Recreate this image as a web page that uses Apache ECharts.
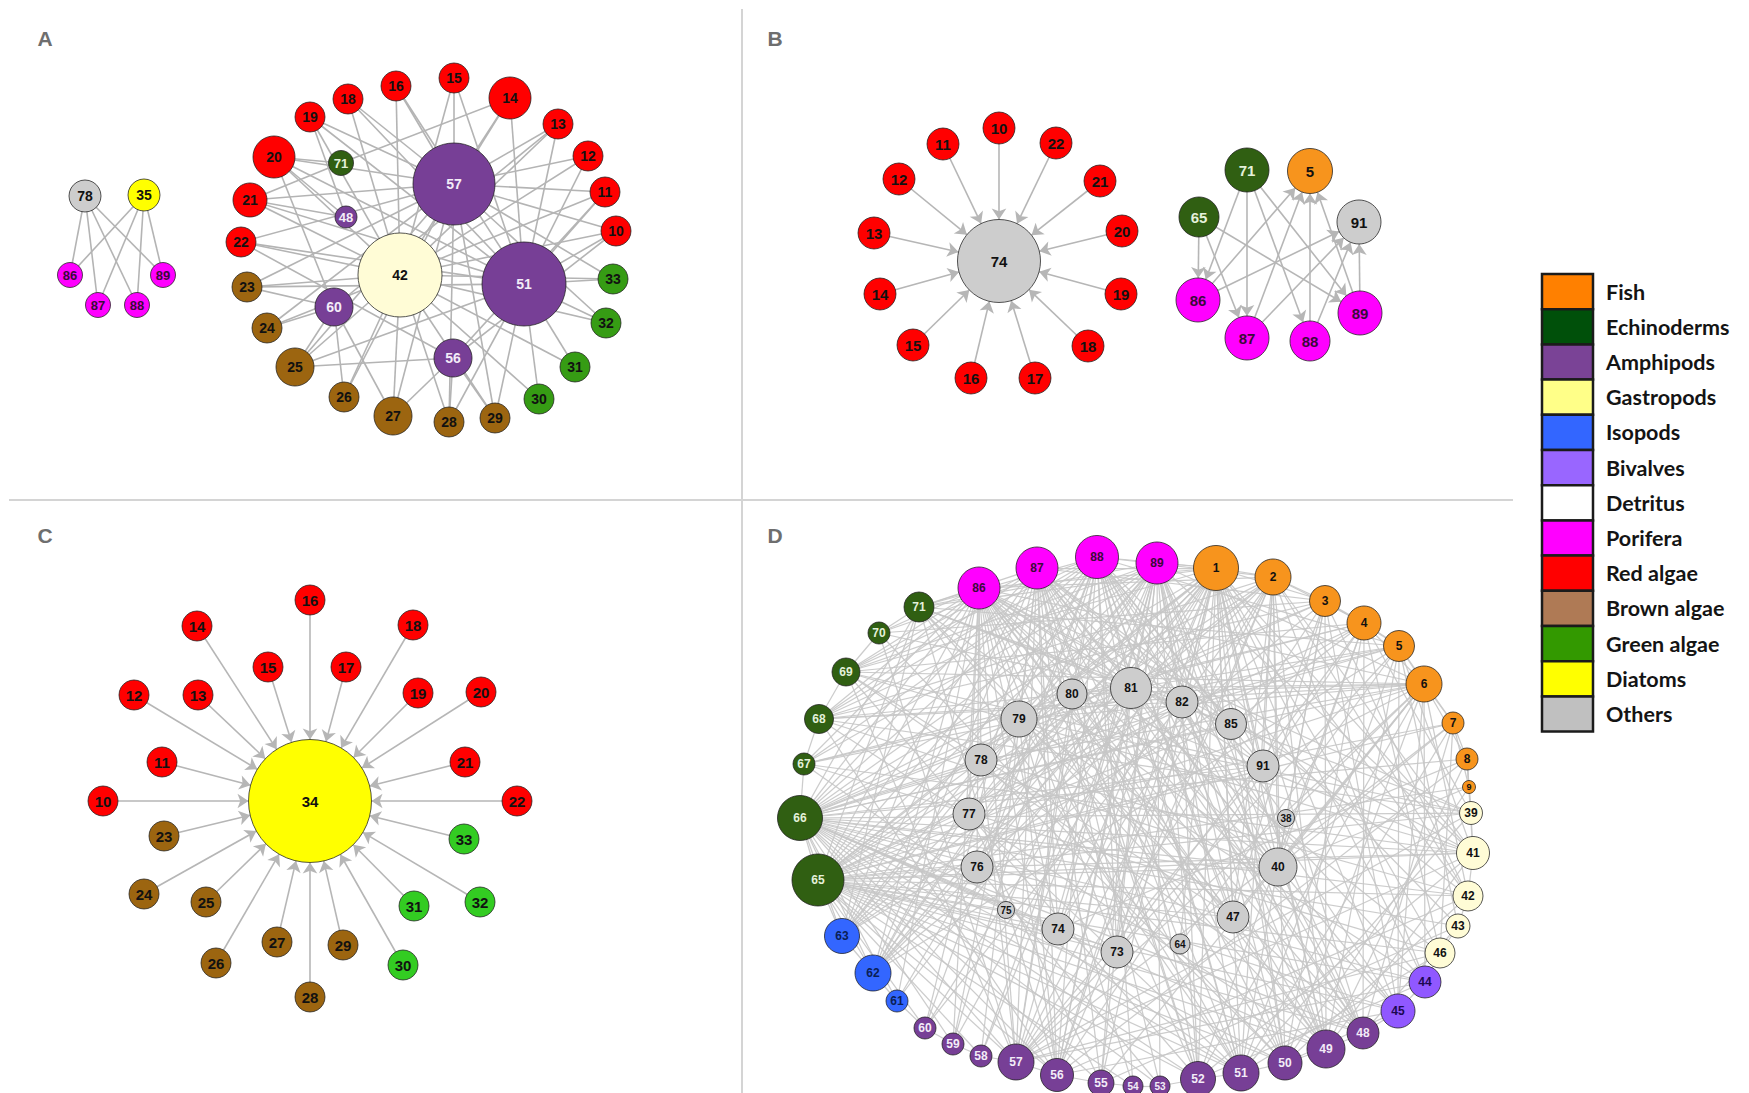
<!DOCTYPE html>
<html>
<head>
<meta charset="utf-8">
<script src="https://cdn.jsdelivr.net/npm/echarts@6/dist/echarts.min.js"></script>
<style>
html, body { margin: 0; padding: 0; background: #ffffff; }
#chart { width: 1749px; height: 1093px; }
</style>
</head>
<body>
<div id="chart"></div>
<script>
// ---- Legend: taxonomic groups ----
const groupKeys   = ['fish', 'echi', 'amph', 'gast', 'iso', 'biv', 'det', 'por', 'red', 'brown', 'green', 'diat', 'oth'];
const groupNames  = ['Fish', 'Echinoderms', 'Amphipods', 'Gastropods', 'Isopods', 'Bivalves', 'Detritus',
                     'Porifera', 'Red algae', 'Brown algae', 'Green algae', 'Diatoms', 'Others'];
const legendColors = ['#ff8000', '#00500a', '#7a4396', '#ffff88', '#3366ff', '#9966ff', '#ffffff',
                      '#ff00ff', '#ff0000', '#af7a55', '#339900', '#ffff00', '#c0c0c0'];

// ---- Panel A: food web of the shallow community ----
// node: [id, group, node size (px), layout x, layout y]
const nodesA = [
  ['78', 'oth', 32, 85, 196], ['35', 'diat', 32, 144, 195],
  ['86', 'por', 25, 70, 275], ['87', 'por', 25, 98, 305], ['88', 'por', 25, 137, 305], ['89', 'por', 25, 163, 275],
  ['15', 'red', 30, 454, 78], ['16', 'red', 30, 396, 86], ['18', 'red', 30, 348, 99], ['19', 'red', 30, 310, 117],
  ['14', 'red', 42, 510, 98], ['13', 'red', 30, 558, 124], ['12', 'red', 30, 588, 156], ['11', 'red', 30, 605, 192],
  ['10', 'red', 30, 616, 231], ['20', 'red', 42, 274, 157], ['21', 'red', 34, 250, 200], ['22', 'red', 30, 241, 242],
  ['23', 'brown', 30, 247, 287], ['24', 'brown', 30, 267, 328], ['25', 'brown', 38, 295, 367], ['26', 'brown', 30, 344, 397],
  ['27', 'brown', 38, 393, 416], ['28', 'brown', 30, 449, 422], ['29', 'brown', 30, 495, 418],
  ['30', 'green', 30, 539, 399], ['31', 'green', 30, 575, 367], ['32', 'green', 30, 606, 323], ['33', 'green', 30, 613, 279],
  ['71', 'echi', 25, 341, 163], ['48', 'amph', 22, 346, 217], ['60', 'amph', 38, 334, 307], ['56', 'amph', 38, 453, 358],
  ['57', 'amph', 82, 454, 184], ['51', 'amph', 84, 524, 284], ['42', 'gast', 84, 400, 275]
];
const linksA = [
  ['78', '86 87 88 89'],
  ['35', '86 87 88 89'],
  ['57', '10 11 12 13 14 15 16 18 19 20 21 22 23 24 25 26 27 28 29 32 33'],
  ['51', '10 11 12 13 14 15 16 18 19 20 21 22 23 25 28 29 30 31 32 33'],
  ['42', '10 11 12 13 14 15 16 18 19 20 21 22 23 24 25 26 27 28 29 30 31 32 33'],
  ['60', '13 20 23 24 25 26 27'],
  ['56', '10 11 22 25 27 28 29'],
  ['48', '19 20 21'],
  ['71', '14 20 21']
];

// ---- Panel B ----
const nodesB = [
  ['74', 'oth', 83, 257, 261],
  ['10', 'red', 32, 257, 128], ['11', 'red', 32, 201, 144], ['22', 'red', 32, 314, 143], ['12', 'red', 32, 157, 179],
  ['21', 'red', 32, 358, 181], ['13', 'red', 32, 132, 233], ['20', 'red', 32, 380, 231], ['14', 'red', 32, 138, 294],
  ['19', 'red', 32, 379, 294], ['15', 'red', 32, 171, 345], ['18', 'red', 32, 346, 346], ['16', 'red', 32, 229, 378],
  ['17', 'red', 32, 293, 378],
  ['71', 'echi', 44, 505, 170], ['5', 'fish', 45, 568, 171], ['65', 'echi', 40, 457, 217], ['91', 'oth', 44, 617, 222],
  ['86', 'por', 44, 456, 300], ['89', 'por', 44, 618, 313], ['87', 'por', 44, 505, 338], ['88', 'por', 40, 568, 341]
];
const linksB = [
  ['10', '74'], ['11', '74'], ['12', '74'], ['13', '74'], ['14', '74'], ['15', '74'], ['16', '74'],
  ['17', '74'], ['18', '74'], ['19', '74'], ['20', '74'], ['21', '74'], ['22', '74'],
  ['65', '86 87 89'], ['71', '86 87 88 89'],
  ['86', '5 91'], ['87', '5 91'], ['88', '5 91'], ['89', '5 91']
];

// ---- Panel C ----
const nodesC = [
  ['34', 'diat', 123, 310, 301],
  ['16', 'red', 30, 310, 100], ['14', 'red', 30, 197, 126], ['18', 'red', 30, 413, 125], ['15', 'red', 30, 268, 167],
  ['17', 'red', 30, 346, 167], ['12', 'red', 30, 134, 195], ['13', 'red', 30, 198, 195], ['19', 'red', 30, 418, 193],
  ['20', 'red', 30, 481, 192], ['11', 'red', 30, 162, 262], ['21', 'red', 30, 465, 262], ['10', 'red', 30, 103, 301],
  ['22', 'red', 30, 517, 301],
  ['23', 'brown', 30, 164, 336], ['24', 'brown', 30, 144, 394], ['25', 'brown', 30, 206, 402], ['27', 'brown', 30, 277, 442],
  ['29', 'brown', 30, 343, 445], ['26', 'brown', 30, 216, 463], ['28', 'brown', 30, 310, 497],
  ['33', 'green', 30, 464, 339], ['31', 'green', 30, 414, 406], ['32', 'green', 30, 480, 402], ['30', 'green', 30, 403, 465]
];
const linksC = [
  ['10', '34'], ['11', '34'], ['12', '34'], ['13', '34'], ['14', '34'], ['15', '34'], ['16', '34'], ['17', '34'],
  ['18', '34'], ['19', '34'], ['20', '34'], ['21', '34'], ['22', '34'], ['23', '34'], ['24', '34'], ['25', '34'],
  ['26', '34'], ['27', '34'], ['28', '34'], ['29', '34'], ['30', '34'], ['31', '34'], ['32', '34'], ['33', '34']
];

// ---- Panel D: whole consumer web ----
const nodesD = [
  ['86', 'por', 42, 237, 88], ['87', 'por', 42, 295, 68], ['88', 'por', 43, 355, 57], ['89', 'por', 42, 415, 63],
  ['1', 'fish', 45, 474, 68], ['2', 'fish', 36, 531, 77], ['3', 'fish', 31, 583, 101], ['4', 'fish', 34, 622, 123],
  ['5', 'fish', 31, 657, 146], ['6', 'fish', 36, 682, 184], ['7', 'fish', 22, 711, 223], ['8', 'fish', 22, 725, 259],
  ['9', 'fish', 13, 727, 287],
  ['39', 'gast', 23, 729, 313], ['41', 'gast', 33, 731, 353], ['42', 'gast', 30, 726, 396], ['43', 'gast', 24, 716, 426],
  ['46', 'gast', 30, 698, 453],
  ['44', 'biv', 32, 683, 482], ['45', 'biv', 34, 656, 511],
  ['48', 'amph', 32, 621, 533], ['49', 'amph', 38, 584, 549], ['50', 'amph', 34, 543, 563], ['51', 'amph', 36, 499, 573],
  ['52', 'amph', 35, 456, 579], ['53', 'amph', 20, 418, 586], ['54', 'amph', 20, 391, 586], ['55', 'amph', 26, 359, 583],
  ['56', 'amph', 33, 315, 575], ['57', 'amph', 36, 274, 562], ['58', 'amph', 22, 239, 556], ['59', 'amph', 22, 211, 544],
  ['60', 'amph', 22, 183, 528],
  ['61', 'iso', 22, 155, 501], ['62', 'iso', 36, 131, 473], ['63', 'iso', 35, 100, 436],
  ['65', 'echi', 52, 76, 380], ['66', 'echi', 45, 58, 318], ['67', 'echi', 22, 62, 264], ['68', 'echi', 29, 77, 219],
  ['69', 'echi', 28, 104, 172], ['70', 'echi', 22, 137, 133], ['71', 'echi', 30, 177, 107],
  ['80', 'oth', 30, 330, 194], ['81', 'oth', 41, 389, 188], ['79', 'oth', 36, 277, 219], ['78', 'oth', 32, 239, 260],
  ['77', 'oth', 32, 227, 314], ['76', 'oth', 32, 235, 367], ['75', 'oth', 17, 264, 410], ['74', 'oth', 32, 316, 429],
  ['73', 'oth', 32, 375, 452], ['64', 'oth', 20, 438, 444], ['47', 'oth', 32, 491, 417], ['40', 'oth', 38, 536, 367],
  ['38', 'oth', 17, 544, 318], ['91', 'oth', 32, 521, 266], ['85', 'oth', 31, 489, 224], ['82', 'oth', 32, 440, 202]
];
const linksD = [
  ['1', '2 3 86 87 88 89 57 56 52 51 50 49 48 63 62 65 66 79 81 82 85 91 40 47 73 74 76 77 78 41 42 46 44 45 55 60 59 71 69'],
  ['2', '3 4 57 56 51 50 49 62 63 65 66 81 82 91 40 47 74 73 42 41 44 86 88 68'],
  ['3', '4 5 57 51 49 62 66 68 40 47 81 91 42 45 87 70'],
  ['4', '5 6 56 52 50 48 63 65 69 80 85 40 73 39 46 67'],
  ['5', '6 7 57 51 49 45 62 66 67 81 82 64 41 43 88 71'],
  ['6', '7 8 68 69 66 65 57 55 52 50 44 45 40 47 79 81 91 42 86 89 80 78'],
  ['7', '8 9 65 57 51 48 40 46 77'],
  ['8', '9 39 66 56 49 41 74'],
  ['9', '39 65 50 40'],
  ['39', '41 65 66 68 57 51 79 81 86'],
  ['41', '42 65 66 67 69 57 52 49 86 89 80 76'],
  ['42', '43 65 66 56 50 87 78'],
  ['43', '46 66 55 48 88'],
  ['46', '44 65 67 57 51 86'],
  ['44', '45 66 65 52 57 87 79'],
  ['45', '48 65 66 56 50 86 88 81'],
  ['48', '49 65 66 69 86 87 88 89 79 81 40'],
  ['49', '50 65 66 68 71 86 87 88 89 80 82 91'],
  ['50', '51 65 66 70 86 87 88 89 78 85'],
  ['51', '52 65 66 67 71 86 87 88 89 81 79 77'],
  ['52', '53 65 66 69 86 87 88 89 82 80'],
  ['53', '54 66 87 89 76'],
  ['54', '55 65 88 86'],
  ['55', '56 66 87 89 81 77'],
  ['56', '57 65 66 68 71 86 87 88 89 79 81 82'],
  ['57', '58 65 66 69 70 86 87 88 89 78 80 91'],
  ['58', '59 65 87 89 81'],
  ['59', '60 66 86 88 79'],
  ['60', '61 65 88 87 82'],
  ['61', '62 66 89 86 81'],
  ['62', '63 65 66 86 87 88 89 79 80 81'],
  ['63', '65 66 71 86 87 88 89 78 82'],
  ['65', '66 86 87 88 89 71 79 80 81 82 85 91 40 47 73 74 76 77'],
  ['66', '67 86 87 88 89 71 78 79 81 82 85 91 40 47 73 74 75'],
  ['67', '68 86 88 89 81'],
  ['68', '69 86 87 88 89 81 82 40'],
  ['69', '70 86 87 88 89 91 47'],
  ['70', '71 86 88 81'],
  ['71', '86 87 88 89 81 82 85 40 47'],
  ['73', '86 87 88 89'], ['74', '86 87 89'], ['76', '86 88'], ['77', '86 89'], ['78', '86 88'],
  ['79', '87 89'], ['80', '86 88'], ['81', '86 87 88 89'], ['82', '86 89'], ['85', '87 88'],
  ['91', '86 87 88 89'], ['40', '86 87 88 89'], ['47', '86 88 89'], ['38', '88 6'], ['64', '87 1'], ['75', '89 65']
];

// ---- Node styling by group ----
const nodeFill = {
  fish: '#f7941d', echi: '#305f12', amph: '#773f96', gast: '#fffcd6', iso: '#3366ff', biv: '#9058ff',
  det: '#ffffff', por: '#ff00ff', red: '#ff0000', brown: '#9c6510', green: '#369c14', diat: '#ffff00', oth: '#cdcdcd'
};
const labelInk = { amph: '#f3ecf8', echi: '#e4f1da', iso: '#0a1e55', biv: '#1c0850', por: '#3a0a3a' };

// Panel boxes on the page: [left, top, width, height]
const panels = [
  { key: 'A', box: [0, 0, 742, 500],   nodes: nodesA, links: linksA, arrows: false, font: 14, edge: '#b4b4b4', edgeW: 1.6 },
  { key: 'B', box: [742, 0, 771, 500], nodes: nodesB, links: linksB, arrows: true,  font: 15, edge: '#b6b6b6', edgeW: 1.6 },
  { key: 'C', box: [0, 500, 742, 593], nodes: nodesC, links: linksC, arrows: true,  font: 15, edge: '#b6b6b6', edgeW: 1.6,
    fill: { green: '#33cc22' } },
  { key: 'D', box: [742, 500, 771, 593], nodes: nodesD, links: linksD, arrows: false, font: 12, edge: '#c6c6c6', edgeW: 1.25 }
];

const grids = [], xAxes = [], yAxes = [], series = [];
panels.forEach(function (p, i) {
  grids.push({ left: p.box[0], top: p.box[1], width: p.box[2], height: p.box[3], containLabel: false });
  xAxes.push({ gridIndex: i, type: 'value', min: 0, max: p.box[2], show: false });
  yAxes.push({ gridIndex: i, type: 'value', min: 0, max: p.box[3], inverse: true, show: false });

  const data = p.nodes.map(function (n) {
    const fill = (p.fill && p.fill[n[1]]) || nodeFill[n[1]];
    const size = n[2];
    let fs = p.font;
    if (size < 15) fs = 9; else if (size < 21) fs = Math.min(fs, 10); else if (size < 27) fs = Math.min(fs, 13);
    return {
      name: n[0],
      value: [n[3], n[4]],
      symbolSize: size,
      itemStyle: { color: fill, borderColor: 'rgba(30,30,30,0.75)', borderWidth: 1 },
      label: { color: labelInk[n[1]] || '#111111', fontSize: fs }
    };
  });
  const links = [];
  p.links.forEach(function (l) {
    l[1].split(' ').forEach(function (t) { links.push({ source: l[0], target: t }); });
  });

  series.push({
    type: 'graph',
    name: 'Panel ' + p.key,
    coordinateSystem: 'cartesian2d',
    xAxisIndex: i,
    yAxisIndex: i,
    layout: 'none',
    symbol: 'circle',
    data: data,
    links: links,
    edgeSymbol: p.arrows ? ['none', 'arrow'] : ['none', 'none'],
    edgeSymbolSize: [0, 11],
    lineStyle: { color: p.edge, width: p.edgeW, opacity: p.key === 'D' ? 0.9 : 1, curveness: 0 },
    label: {
      show: true, position: 'inside', formatter: '{b}',
      fontFamily: '"Liberation Sans", Arial, sans-serif', fontWeight: 'bold'
    },
    emphasis: { disabled: true },
    silent: true,
    z: 3
  });
});

// Panel letters, dividers and the group legend
const graphics = [
  { type: 'line', shape: { x1: 742, y1: 9, x2: 742, y2: 1093 }, style: { stroke: '#d4d4d4', lineWidth: 2 }, z: 0 },
  { type: 'line', shape: { x1: 9, y1: 500, x2: 1513, y2: 500 }, style: { stroke: '#d4d4d4', lineWidth: 2 }, z: 0 }
];
const letterPos = [[45, 38], [775, 38], [45, 535], [775, 535]];
panels.forEach(function (p, i) {
  graphics.push({
    type: 'text', x: letterPos[i][0], y: letterPos[i][1], z: 10,
    style: { text: p.key, fill: '#6e6e6e', font: 'bold 21px "Liberation Sans", Arial, sans-serif',
             align: 'center', verticalAlign: 'middle', textAlign: 'center', textVerticalAlign: 'middle' }
  });
});
const legendTop = 274, legendStep = 35.2;
groupNames.forEach(function (name, i) {
  const y = legendTop + i * legendStep;
  graphics.push({
    type: 'rect', z: 10,
    shape: { x: 1542, y: y, width: 51, height: legendStep },
    style: { fill: legendColors[i], stroke: '#1b1b1b', lineWidth: 2.5 }
  });
  graphics.push({
    type: 'text', x: 1606, y: y + legendStep / 2, z: 10,
    style: { text: name, fill: '#141414', font: 'bold 21.5px Lato, "Liberation Sans", sans-serif',
             verticalAlign: 'middle', textVerticalAlign: 'middle' }
  });
});

const chart = echarts.init(document.getElementById('chart'), null, { renderer: 'svg', width: 1749, height: 1093 });
chart.setOption({
  backgroundColor: '#ffffff',
  animation: false,
  grid: grids,
  xAxis: xAxes,
  yAxis: yAxes,
  series: series,
  graphic: graphics
});
</script>
</body>
</html>
